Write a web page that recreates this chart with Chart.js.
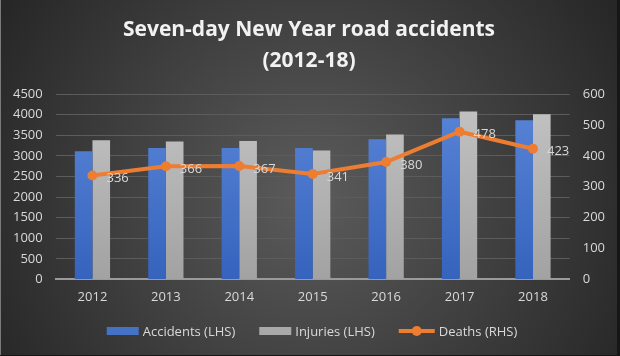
<!DOCTYPE html>
<html>
<head>
<meta charset="utf-8">
<script src="https://cdn.jsdelivr.net/npm/chart.js@4/dist/chart.umd.min.js"></script>
<style>
html,body{margin:0;padding:0;background:#2a2a2a;}
#wrap{width:620px;height:356px;}
</style>
</head>
<body>
<div id="wrap"><canvas id="c" width="620" height="356"></canvas></div>
<script>
const years = ['2012','2013','2014','2015','2016','2017','2018'];
const accidents = [3110, 3190, 3190, 3190, 3400, 3910, 3860];
const injuries = [3380, 3345, 3360, 3130, 3520, 4075, 4010];
const deaths = [336, 366, 367, 341, 380, 478, 423];
const leftTicks = [0, 4500, 500];
const rightTicks = [0, 600, 100];
const titleLines = ['Seven-day New Year road accidents', '(2012-18)'];
const seriesNames = ['Accidents (LHS)', 'Injuries (LHS)', 'Deaths (RHS)'];

const FONT = "'Open Sans', 'DejaVu Sans', sans-serif";
const TXT = '#d9d9d9';
const BLUE = '#4472c4', GREY = '#a9a9a9', ORANGE = '#ed7d31';

function vGrad(ctx, area, top, bottom) {
  const g = ctx.createLinearGradient(0, area.top, 0, area.bottom);
  g.addColorStop(0, top);
  g.addColorStop(1, bottom);
  return g;
}

const bgPlugin = {
  id: 'bg',
  beforeDraw(chart) {
    const ctx = chart.ctx, w = chart.width, h = chart.height;
    ctx.save();
    const g = ctx.createRadialGradient(w * 0.5, h * 0.55, 10, w * 0.5, h * 0.55, w * 0.62);
    g.addColorStop(0, '#5a5a5a');
    g.addColorStop(1, '#232323');
    ctx.fillStyle = g;
    ctx.fillRect(0, 0, w, h);
    ctx.fillStyle = '#7a7a7a';
    ctx.fillRect(0, 0, 1, h);
    ctx.fillStyle = '#161616';
    ctx.fillRect(w - 3, 0, 3, h);
    ctx.fillRect(0, h - 1, w, 1);
    ctx.restore();
  }
};

const labelPlugin = {
  id: 'pointLabels',
  afterDatasetsDraw(chart) {
    const ctx = chart.ctx;
    const meta = chart.getDatasetMeta(2);
    ctx.save();
    ctx.font = '13px ' + FONT;
    ctx.fillStyle = TXT;
    ctx.textAlign = 'left';
    ctx.textBaseline = 'middle';
    meta.data.forEach((pt, i) => {
      ctx.fillText(String(deaths[i]), pt.x + 14, pt.y + 3);
    });
    ctx.restore();
  }
};

const legendPlugin = {
  id: 'customLegend',
  afterDraw(chart) {
    const ctx = chart.ctx;
    ctx.save();
    ctx.font = '13px ' + FONT;
    const iconW = [32, 32, 36], gapIcon = 4, gapItem = 24;
    const widths = seriesNames.map((t, i) => iconW[i] + gapIcon + ctx.measureText(t).width);
    const total = widths.reduce((a, b) => a + b, 0) + gapItem * (seriesNames.length - 1);
    let x = chart.width / 2 - total / 2 + 2;
    const y = 331;
    seriesNames.forEach((t, i) => {
      if (i === 0) { ctx.fillStyle = BLUE; ctx.fillRect(x, y - 4, 32, 8); }
      else if (i === 1) { ctx.fillStyle = GREY; ctx.fillRect(x, y - 4, 32, 8); }
      else {
        ctx.strokeStyle = ORANGE; ctx.lineWidth = 4;
        ctx.beginPath(); ctx.moveTo(x, y); ctx.lineTo(x + 36, y); ctx.stroke();
        ctx.fillStyle = ORANGE;
        ctx.beginPath(); ctx.arc(x + 18, y, 5, 0, Math.PI * 2); ctx.fill();
      }
      ctx.fillStyle = TXT;
      ctx.textAlign = 'left';
      ctx.textBaseline = 'middle';
      ctx.fillText(t, x + iconW[i] + gapIcon, y + 1);
      x += widths[i] + gapItem;
    });
    ctx.restore();
  }
};

new Chart(document.getElementById('c'), {
  data: {
    labels: years,
    datasets: [
      {
        type: 'bar', label: seriesNames[0], data: accidents, yAxisID: 'y', order: 2,
        backgroundColor(ctx) {
          const a = ctx.chart.chartArea;
          if (!a) return BLUE;
          return vGrad(ctx.chart.ctx, a, '#5b86d8', '#3563bd');
        },
        barPercentage: 1, categoryPercentage: 0.48
      },
      {
        type: 'bar', label: seriesNames[1], data: injuries, yAxisID: 'y', order: 2,
        backgroundColor(ctx) {
          const a = ctx.chart.chartArea;
          if (!a) return GREY;
          return vGrad(ctx.chart.ctx, a, '#c4c4c4', '#a2a2a2');
        },
        barPercentage: 1, categoryPercentage: 0.48
      },
      {
        type: 'line', label: seriesNames[2], data: deaths, yAxisID: 'y1', order: 1,
        borderColor: ORANGE, backgroundColor: ORANGE, borderWidth: 4,
        pointRadius: 5, pointHoverRadius: 5, pointBackgroundColor: ORANGE, pointBorderWidth: 0,
        tension: 0
      }
    ]
  },
  options: {
    responsive: false,
    animation: false,
    layout: { padding: { left: 0, right: 2, top: 8, bottom: 41 } },
    plugins: {
      title: {
        display: true, text: titleLines, color: '#f2f2f2',
        font: { family: FONT, size: 21, weight: 'bold', lineHeight: 1.5 },
        padding: { top: 6, bottom: 17 }
      },
      legend: { display: false },
      tooltip: { enabled: false }
    },
    scales: {
      x: {
        grid: { display: false, drawTicks: false },
        border: { color: '#9a9a9a', width: 2 },
        ticks: { color: TXT, font: { family: FONT, size: 13 }, padding: 10 }
      },
      y: {
        position: 'left',
        min: leftTicks[0], max: leftTicks[1],
        ticks: { stepSize: leftTicks[2], color: TXT, font: { family: FONT, size: 13 }, padding: 13,
                 callback: v => String(v) },
        grid: { color: '#5c5c5c', drawTicks: false },
        border: { display: false }
      },
      y1: {
        position: 'right',
        min: rightTicks[0], max: rightTicks[1],
        ticks: { stepSize: rightTicks[2], color: TXT, font: { family: FONT, size: 13 }, padding: 13,
                 callback: v => String(v) },
        grid: { drawOnChartArea: false, drawTicks: false },
        border: { display: false }
      }
    }
  },
  plugins: [bgPlugin, labelPlugin, legendPlugin]
});
</script>
</body>
</html>
